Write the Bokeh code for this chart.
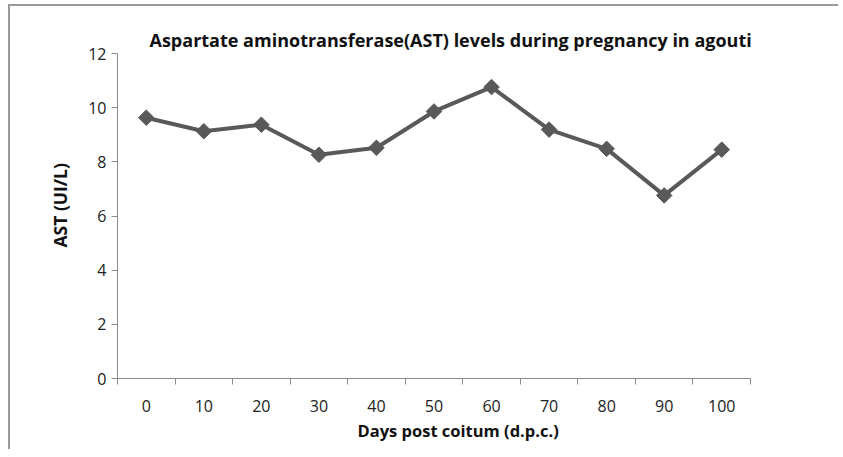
import math
from bokeh.plotting import figure
from bokeh.models import Range1d, FixedTicker, Title
from bokeh.embed import file_html
from bokeh.resources import INLINE

days = [0, 10, 20, 30, 40, 50, 60, 70, 80, 90, 100]
ast = [9.63, 9.13, 9.37, 8.26, 8.52, 9.86, 10.76, 9.19, 8.48, 6.76, 8.45]
y_ticks = [0, 2, 4, 6, 8, 10, 12]
boundaries = [d - 5 for d in days] + [105]

FONT = "Open Sans"
GREY = "#595959"
AXIS = "#8c8c8c"

p = figure(width=830, height=445, output_backend="svg", toolbar_location=None,
           x_range=Range1d(-5, 105), y_range=Range1d(0, 12),
           min_border_left=107, min_border_top=47, min_border_right=90, min_border_bottom=73)
p.outline_line_color = None
p.xgrid.visible = False
p.ygrid.visible = False
p.styles = {"border-top": "2px solid #9a9a9a", "border-left": "2px solid #9a9a9a",
            "margin-left": "8px", "margin-top": "4px"}

p.line(days, ast, line_color=GREY, line_width=4)
p.scatter(days, ast, marker="square", size=11, angle=math.pi / 4,
          fill_color=GREY, line_color=GREY)

xa = p.xaxis[0]
xa.ticker = FixedTicker(ticks=days, minor_ticks=boundaries)
xa.major_tick_out = 0
xa.major_tick_in = 0
xa.minor_tick_out = 6
xa.minor_tick_in = 0
xa.minor_tick_line_color = AXIS
xa.axis_line_color = AXIS
xa.major_label_standoff = 15
xa.major_label_text_font = FONT
xa.major_label_text_font_size = "16px"
xa.major_label_text_color = "#222222"

ya = p.yaxis[0]
ya.ticker = FixedTicker(ticks=y_ticks)
ya.minor_tick_line_color = None
ya.major_tick_out = 6
ya.major_tick_in = 0
ya.major_tick_line_color = AXIS
ya.axis_line_color = AXIS
ya.major_label_standoff = 5
ya.major_label_text_font = FONT
ya.major_label_text_font_size = "16px"
ya.major_label_text_color = "#222222"

yt = Title(text="AST (UI/L)", align="left", offset=131,
           text_font=FONT, text_font_size="17.5px", text_font_style="bold",
           text_color="#111111", standoff=27)
p.add_layout(yt, "left")

xt = Title(text="Days post coitum (d.p.c.)", align="left", offset=240,
           text_font=FONT, text_font_size="16.5px", text_font_style="bold",
           text_color="#111111", standoff=4)
p.add_layout(xt, "below")

tt = Title(text="Aspartate aminotransferase(AST) levels during pregnancy in agouti",
           align="left", offset=32, text_font=FONT, text_font_size="18px",
           text_font_style="bold", text_color="#111111", standoff=4)
p.add_layout(tt, "above")

open("out.html", "w").write(file_html(p, INLINE))
